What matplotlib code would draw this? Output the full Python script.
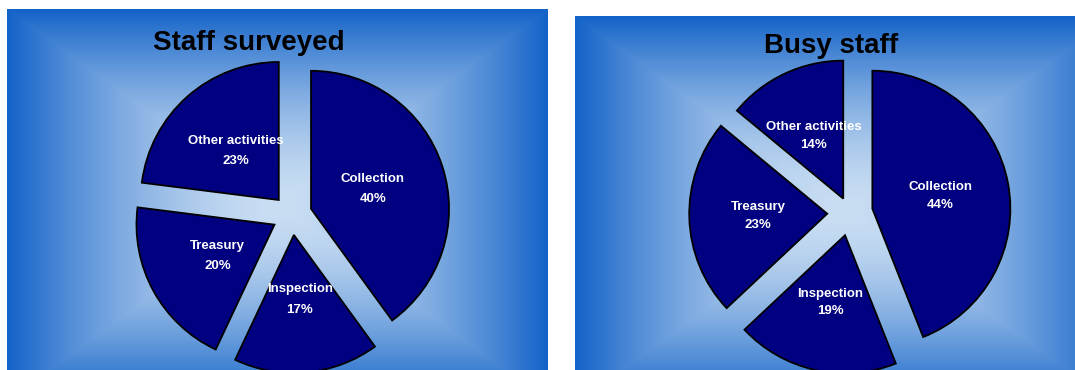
import numpy as np
import matplotlib.pyplot as plt
from matplotlib.colors import to_rgb

plt.rcParams['font.family'] = ['Liberation Sans', 'DejaVu Sans']

W, H = 1075, 370

# --- data ---
activities = ['Collection', 'Inspection', 'Treasury', 'Other activities']
surveyed_pct = [40, 17, 20, 23]
busy_pct = [44, 19, 23, 14]

SLICE_COLOR = '#000080'
EDGE_BLUE = '#1262C8'
CENTER_BLUE = '#CADEF3'


def gradient_panel(fig, left, top, right, bottom, cx, cy, hw, hh):
    """Rectangular 'from centre' gradient, pixel box given top-down."""
    ax = fig.add_axes([left / W, 1 - bottom / H, (right - left) / W, (bottom - top) / H])
    xs = np.arange(left, right) + 0.5
    ys = np.arange(top, bottom) + 0.5
    X, Y = np.meshgrid(xs, ys)
    t = np.maximum(np.abs(X - cx) / hw, np.abs(Y - cy) / hh).clip(0, 1) ** 1.6
    c0 = np.array(to_rgb(CENTER_BLUE))
    c1 = np.array(to_rgb(EDGE_BLUE))
    img = c0 + (c1 - c0) * t[..., None]
    ax.imshow(img, aspect='auto', interpolation='bilinear')
    ax.axis('off')
    return ax


def draw_pie(fig, values, cx, cy, r, explode, labeldist, linespacing):
    # full-figure axes, one data unit = pie radius in pixels
    ax = fig.add_axes([0, 0, 1, 1])
    ax.set_facecolor('none')
    labels = [f'{n}\n{v}%' for n, v in zip(activities, values)]
    ax.pie(values, labels=labels, explode=explode, startangle=90,
           counterclock=False, colors=[SLICE_COLOR] * len(values),
           labeldistance=labeldist,
           wedgeprops=dict(edgecolor='black', linewidth=1.3),
           textprops=dict(color='white', fontsize=9.5, fontweight='bold',
                          ha='center', va='center', linespacing=linespacing))
    ax.set_aspect('auto')
    ax.set_xlim(-cx / r, (W - cx) / r)
    ax.set_ylim(-(H - cy) / r, cy / r)
    ax.axis('off')
    return ax


fig = plt.figure(figsize=(W / 100, H / 100), dpi=100)
fig.patch.set_facecolor('white')

# left chart
gradient_panel(fig, 7, 9, 547, 370, 277, 205, 270, 196)
draw_pie(fig, surveyed_pct, 292, 215, 138, [0.145] * 4, 0.47, 1.9)
fig.text(249 / W, 1 - 50 / H, 'Staff surveyed', ha='center', va='baseline',
         fontsize=20, fontweight='bold', color='black')

# right chart
gradient_panel(fig, 575, 16, 1075, 370, 845, 210, 270, 194)
draw_pie(fig, busy_pct, 850, 213, 138, [0.165, 0.165, 0.165, 0.115], 0.5, 1.62)
fig.text(831 / W, 1 - 53 / H, 'Busy staff', ha='center', va='baseline',
         fontsize=20, fontweight='bold', color='black')

fig.savefig('out.png', dpi=100)
